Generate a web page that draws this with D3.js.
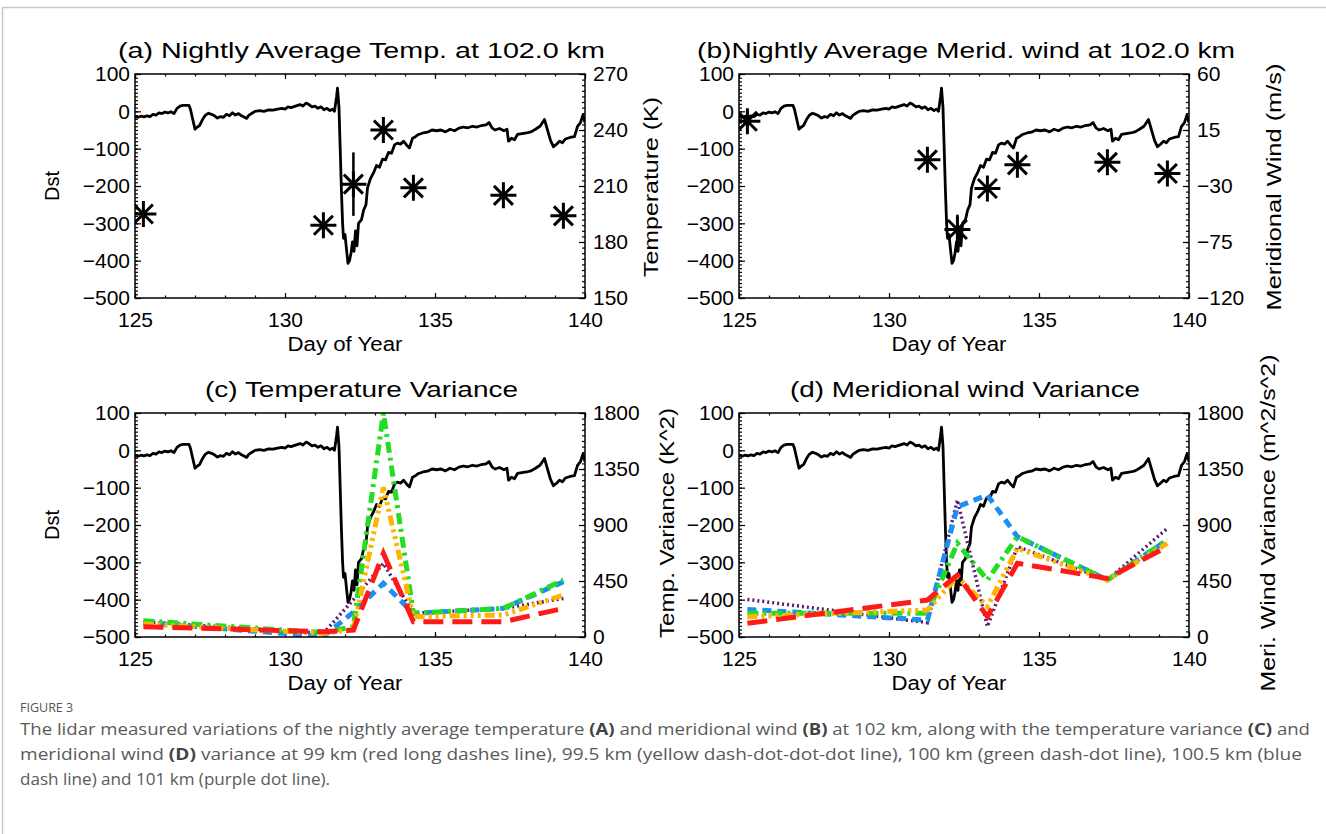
<!DOCTYPE html>
<html lang="en">
<head>
<meta charset="UTF-8"/>
<title>Figure 3 - Dst, nightly temperature, wind and variances</title>
<script src="https://d3js.org/d3.v7.min.js"></script>
<style>
    body { margin: 0; background: #fff; }
    svg { display: block; }
    .tick text { font-family: "Liberation Sans", Arial, sans-serif; font-size: 21px; fill: #000; }
    .lbl { font-family: "Liberation Sans", Arial, sans-serif; fill: #000; }
    .cap { font-family: "Open Sans", "Noto Sans", sans-serif; fill: #5a5a5a; }
</style>
</head>
<body>
<script>
    var w = 1326;
    var h = 834;

    // Dst index (nT) against day of year, same curve in all four panels
    var dstDay = [125.00, 125.10, 125.20, 125.30, 125.40, 125.50, 125.60, 125.70, 125.80, 125.90,
        126.00, 126.10, 126.20, 126.30, 126.40, 126.50, 126.60, 126.80, 126.85, 126.92,
        127.00, 127.08, 127.15, 127.25, 127.35, 127.45, 127.55, 127.65, 127.75, 127.85,
        127.95, 128.05, 128.15, 128.25, 128.35, 128.45, 128.55, 128.65, 128.72, 128.80,
        128.90, 129.00, 129.15, 129.30, 129.45, 129.60, 129.75, 129.90, 130.00, 130.10,
        130.20, 130.35, 130.50, 130.60, 130.70, 130.80, 130.90, 131.00, 131.10, 131.20,
        131.30, 131.40, 131.50, 131.58, 131.65, 131.72, 131.75, 131.80, 131.84, 131.88,
        131.92, 131.95, 132.00, 132.05, 132.10, 132.15, 132.20, 132.25, 132.30, 132.35,
        132.40, 132.45, 132.55, 132.62, 132.70, 132.75, 132.85, 132.95, 133.05, 133.15,
        133.25, 133.35, 133.45, 133.55, 133.65, 133.75, 133.85, 133.95, 134.05, 134.15,
        134.25, 134.35, 134.45, 134.60, 134.75, 134.90, 135.05, 135.20, 135.35, 135.50,
        135.65, 135.80, 135.95, 136.10, 136.25, 136.40, 136.55, 136.70, 136.80, 136.90,
        137.00, 137.15, 137.30, 137.40, 137.45, 137.55, 137.65, 137.75, 137.90, 138.05,
        138.20, 138.35, 138.50, 138.65, 138.75, 138.85, 138.95, 139.05, 139.15, 139.25,
        139.35, 139.50, 139.65, 139.75, 139.85, 139.93, 140.00];
    var dstVal = [-14, -16, -13, -15, -12, -14, -8, -10, -4, -6,
        -2, -4, -1, -6, 8, 14, 16, 16, 5, -20,
        -48, -42, -38, -22, -10, -5, -8, -12, -18, -14,
        -16, -8, -12, -4, -10, -6, -12, -16, -19, -10,
        -5, 0, 2, 0, 4, 3, 6, 8, 6, 12,
        10, 14, 18, 14, 22, 18, 12, 14, 8, 12,
        4, 8, 2, 6, 0, 40, 62, 10, -100, -210,
        -300, -340, -330, -370, -407, -400, -380, -350, -375, -320,
        -360, -300, -290, -265, -250, -205, -180, -165, -145, -150,
        -128, -130, -110, -112, -90, -85, -88, -80, -90, -98,
        -72, -68, -62, -58, -56, -50, -52, -50, -55, -48,
        -52, -45, -42, -44, -40, -42, -38, -36, -30, -44,
        -50, -46, -52, -48, -80, -72, -76, -62, -60, -58,
        -55, -48, -40, -22, -50, -78, -95, -88, -80, -84,
        -74, -70, -68, -40, -30, -10, -30];

    // nightly averages at 102 km
    var nightDay = [125.28, 131.28, 132.28, 133.28, 134.28, 137.28, 139.28];
    var tempAvg = [195, 189, 211, 240, 209, 205, 194];
    var tempErr = [2, 2, 17, 2, 2, 2, 2];
    var windAvg = [22, -9, -65, -32, -13, -11, -20];
    var windErr = [3, 3, 12, 3, 3, 3, 3];

    // temperature variance (K^2) by altitude
    var tVar99 = [83, 43, 56, 672, 123, 123, 230];
    var tVar995 = [104, 29, 60, 1203, 163, 177, 337];
    var tVar100 = [131, 35, 83, 1800, 190, 230, 458];
    var tVar1005 = [115, 5, 200, 431, 190, 230, 444];
    var tVar101 = [123, 29, 300, 592, 190, 230, 310];

    // meridional wind variance (m^2/s^2) by altitude
    var wVar99 = [110, 297, 498, 163, 592, 471, 726];
    var wVar995 = [163, 217, 485, 244, 712, 458, 753];
    var wVar100 = [190, 190, 753, 458, 806, 458, 779];
    var wVar1005 = [222, 136, 1047, 1141, 806, 458, 779];
    var wVar101 = [302, 115, 1101, 83, 726, 458, 873];

    // tick labels
    var dayTicks = [125, 130, 135, 140];
    var dstTicks = [100, 0, -100, -200, -300, -400, -500];
    var tempTicks = [270, 240, 210, 180, 150];
    var windTicks = [60, 15, -30, -75, -120];
    var varTicks = [1800, 1350, 900, 450, 0];

    // line style per altitude (101 drawn first, 99 on top)
    var varStyle = [
        { key: 4, color: "#5c1a72", width: 3.5, dash: "2,3" },
        { key: 3, color: "#1e8ff0", width: 5, dash: "9,6" },
        { key: 2, color: "#22dd22", width: 5, dash: "11,5,3,5" },
        { key: 1, color: "#ffb400", width: 5, dash: "10,4,3,4,3,4,3,4" },
        { key: 0, color: "#ff1a1a", width: 5, dash: "20,9" }
    ];

    var pw = 450;
    var ph = 224;

    var svg = d3.select("body")
        .append("svg")
        .attr("width", w)
        .attr("height", h);

    // page frame (left and top edge)
    svg.append("path")
        .attr("d", "M2.5," + h + " V7.5 H" + w)
        .attr("fill", "none")
        .attr("stroke", "#c8c8c8")
        .attr("stroke-width", 1.5);

    var panels = [
        { id: "a", x: 135, y: 74, title: "(a) Nightly Average Temp. at 102.0 km", tx: 118, tl: 487,
          dom: [150, 270], ticks: tempTicks, minor: 3, rLabel: "Temperature (K)", rx: 651, rl: 180,
          pts: tempAvg, err: tempErr, dstLabel: true },
        { id: "b", x: 739, y: 74, title: "(b)Nightly Average Merid. wind at 102.0 km", tx: 697, tl: 538,
          dom: [-120, 60], ticks: windTicks, minor: 4.5, rLabel: "Meridional Wind (m/s)", rx: 1274, rl: 247,
          pts: windAvg, err: windErr, dstLabel: false },
        { id: "c", x: 135, y: 413, title: "(c) Temperature Variance", tx: 205, tl: 313,
          dom: [0, 1800], ticks: varTicks, minor: 45, rLabel: "Temp. Variance (K^2)", rx: 667, rl: 230,
          vars: [tVar99, tVar995, tVar100, tVar1005, tVar101], dstLabel: true },
        { id: "d", x: 739, y: 413, title: "(d) Meridional wind Variance", tx: 790, tl: 350,
          dom: [0, 1800], ticks: varTicks, minor: 45, rLabel: "Meri. Wind Variance (m^2/s^2)", rx: 1268, rl: 337,
          vars: [wVar99, wVar995, wVar100, wVar1005, wVar101], dstLabel: false }
    ];

    panels.forEach(function (p) {
        var g = svg.append("g").attr("transform", "translate(" + p.x + "," + p.y + ")");

        var xScale = d3.scaleLinear().domain([125, 140]).range([0, pw]);
        var yScale = d3.scaleLinear().domain([-500, 100]).range([ph, 0]);
        var rScale = d3.scaleLinear().domain(p.dom).range([ph, 0]);

        g.append("clipPath").attr("id", "clip-" + p.id)
            .append("rect").attr("width", pw).attr("height", ph);

        // minor ticks on all four sides, pointing inward
        g.append("g").attr("transform", "translate(0," + ph + ")")
            .call(d3.axisBottom(xScale).tickValues(d3.range(125, 141, 1)).tickSize(-2.5).tickFormat(""));
        g.append("g")
            .call(d3.axisTop(xScale).tickValues(d3.range(125, 141, 1)).tickSize(-2.5).tickFormat(""));
        g.append("g")
            .call(d3.axisLeft(yScale).tickValues(d3.range(-500, 101, 10)).tickSize(-3).tickFormat(""));
        g.append("g").attr("transform", "translate(" + pw + ",0)")
            .call(d3.axisRight(rScale).tickValues(d3.range(p.dom[0], p.dom[1] + 0.01, p.minor)).tickSize(-3).tickFormat(""));

        // major ticks with labels
        g.append("g").attr("transform", "translate(0," + ph + ")")
            .call(d3.axisBottom(xScale).tickValues(dayTicks).tickSize(-5).tickPadding(14).tickFormat(d3.format("d")));
        g.append("g")
            .call(d3.axisTop(xScale).tickValues(dayTicks).tickSize(-5).tickFormat(""));
        g.append("g")
            .call(d3.axisLeft(yScale).tickValues(dstTicks).tickSize(-6).tickPadding(5).tickFormat(d3.format("d")));
        g.append("g").attr("transform", "translate(" + pw + ",0)")
            .call(d3.axisRight(rScale).tickValues(p.ticks).tickSize(-6).tickPadding(8).tickFormat(d3.format("d")));

        g.selectAll(".domain").remove();
        g.selectAll(".tick line").attr("stroke", "#000").attr("stroke-width", 1.2);

        var plot = g.append("g").attr("clip-path", "url(#clip-" + p.id + ")");

        // Dst curve
        var dstLine = d3.line()
            .x(function (d, i) { return xScale(dstDay[i]); })
            .y(function (d) { return yScale(d); });
        plot.append("path")
            .datum(dstVal)
            .attr("d", dstLine)
            .attr("fill", "none")
            .attr("stroke", "#000")
            .attr("stroke-width", 2.8)
            .attr("stroke-linejoin", "round");

        if (p.pts) {
            // error bars and asterisks for the nightly averages
            plot.selectAll("line.err")
                .data(p.pts)
                .enter()
                .append("line")
                .attr("x1", function (d, i) { return xScale(nightDay[i]); })
                .attr("x2", function (d, i) { return xScale(nightDay[i]); })
                .attr("y1", function (d, i) { return rScale(d - p.err[i]); })
                .attr("y2", function (d, i) { return rScale(d + p.err[i]); })
                .attr("stroke", "#000")
                .attr("stroke-width", 2.5);

            plot.selectAll("path.star")
                .data(p.pts)
                .enter()
                .append("path")
                .attr("transform", function (d, i) {
                    return "translate(" + xScale(nightDay[i]) + "," + rScale(d) + ")";
                })
                .attr("d", "M0,-13V13M-13,0H13M-9.5,-9.5L9.5,9.5M-9.5,9.5L9.5,-9.5")
                .attr("fill", "none")
                .attr("stroke", "#000")
                .attr("stroke-width", 3);
        }

        if (p.vars) {
            var varLine = d3.line()
                .x(function (d, i) { return xScale(nightDay[i]); })
                .y(function (d) { return rScale(d); });
            varStyle.forEach(function (s) {
                plot.append("path")
                    .datum(p.vars[s.key])
                    .attr("d", varLine)
                    .attr("fill", "none")
                    .attr("stroke", s.color)
                    .attr("stroke-width", s.width)
                    .attr("stroke-dasharray", s.dash);
            });
        }

        // frame
        g.append("rect")
            .attr("width", pw)
            .attr("height", ph)
            .attr("fill", "none")
            .attr("stroke", "#000")
            .attr("stroke-width", 1.5);

        // titles and axis labels
        svg.append("text")
            .attr("class", "lbl")
            .attr("x", p.tx)
            .attr("y", p.y - 16)
            .attr("font-size", "22px")
            .attr("textLength", p.tl)
            .attr("lengthAdjust", "spacingAndGlyphs")
            .text(p.title);

        svg.append("text")
            .attr("class", "lbl")
            .attr("x", p.x + pw / 2 - 15)
            .attr("y", p.y + ph + 53)
            .attr("font-size", "20px")
            .attr("text-anchor", "middle")
            .attr("textLength", 115)
            .attr("lengthAdjust", "spacingAndGlyphs")
            .text("Day of Year");

        if (p.dstLabel) {
            svg.append("text")
                .attr("class", "lbl")
                .attr("transform", "translate(59," + (p.y + 112) + ") rotate(-90)")
                .attr("font-size", "20px")
                .attr("text-anchor", "middle")
                .text("Dst");
        }

        svg.append("text")
            .attr("class", "lbl")
            .attr("transform", "translate(" + (p.rx + 7) + "," + (p.y + ph / 2 + (p.id == "a" || p.id == "b" ? 1 : -2)) + ") rotate(-90)")
            .attr("font-size", "20px")
            .attr("text-anchor", "middle")
            .attr("textLength", p.rl)
            .attr("lengthAdjust", "spacingAndGlyphs")
            .text(p.rLabel);
    });

    // caption
    var cap = svg.append("g").attr("class", "cap");
    cap.append("text")
        .attr("x", 20).attr("y", 712)
        .attr("font-size", "12.5px")
        .attr("fill", "#555")
        .text("FIGURE 3");

    var capLines = [
        [["The lidar measured variations of the nightly average temperature ", 0], ["(A)", 1], [" and meridional wind ", 0], ["(B)", 1],
         [" at 102 km, along with the temperature variance ", 0], ["(C)", 1], [" and", 0]],
        [["meridional wind ", 0], ["(D)", 1], [" variance at 99 km (red long dashes line), 99.5 km (yellow dash-dot-dot-dot line), 100 km (green dash-dot line), 100.5 km (blue", 0]],
        [["dash line) and 101 km (purple dot line).", 0]]
    ];
    var capLen = [1290, 1282, 310];

    capLines.forEach(function (line, i) {
        var t = cap.append("text")
            .attr("x", 20)
            .attr("y", 735 + i * 25)
            .attr("font-size", "16px");
        if (capLen[i]) t.attr("textLength", capLen[i]).attr("lengthAdjust", "spacingAndGlyphs");
        line.forEach(function (part) {
            t.append("tspan")
                .attr("font-weight", part[1] ? "bold" : "normal")
                .attr("fill", part[1] ? "#444" : "#5a5a5a")
                .text(part[0]);
        });
    });
</script>
</body>
</html>
